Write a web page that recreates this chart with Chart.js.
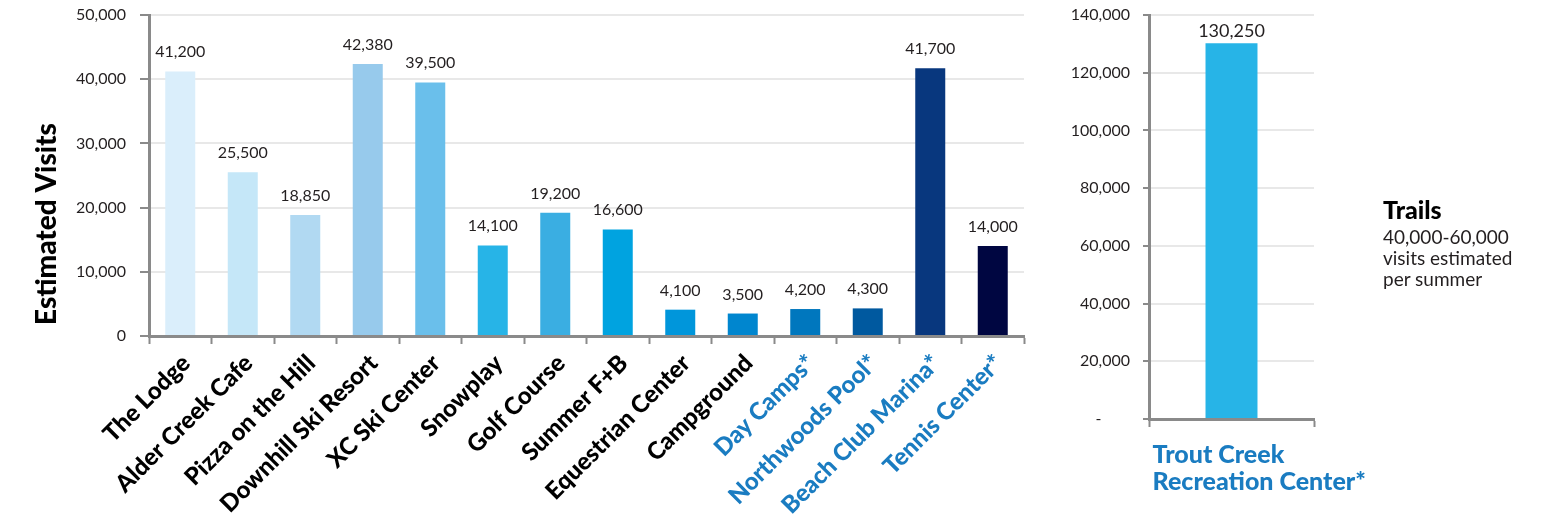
<!DOCTYPE html>
<html>
<head>
<meta charset="utf-8">
<script src="https://cdn.jsdelivr.net/npm/chart.js@4.4.1/dist/chart.umd.min.js"></script>
<style>
  html, body { margin: 0; padding: 0; background: #fff; }
  body { width: 1555px; height: 526px; position: relative; overflow: hidden; font-family: Lato, sans-serif; color: #231f20; }
  .box { position: absolute; top: 0; height: 526px; }
  #leftBox { left: 0; width: 1040px; }
  #rightBox { left: 1040px; width: 515px; }
  #trails { position: absolute; left: 1383px; top: 195px; }
  #trails .head { font-size: 25px; font-weight: 900; line-height: 28px; color: #000; }
  #trails .body { font-size: 19px; line-height: 21px; margin-top: 3px; }
</style>
</head>
<body>
<div class="box" id="leftBox"><canvas id="leftChart"></canvas></div>
<div class="box" id="rightBox"><canvas id="rightChart"></canvas></div>
<div id="trails">
  <div class="head">Trails</div>
  <div class="body">40,000-60,000<br>visits estimated<br>per summer</div>
</div>
<script>
// Datos
const categories = ['The Lodge', 'Alder Creek Cafe', 'Pizza on the Hill', 'Downhill Ski Resort', 'XC Ski Center',
    'Snowplay', 'Golf Course', 'Summer F+B', 'Equestrian Center', 'Campground', 'Day Camps*',
    'Northwoods Pool*', 'Beach Club Marina*', 'Tennis Center*'];
const visits = [41200, 25500, 18850, 42380, 39500, 14100, 19200, 16600, 4100, 3500, 4200, 4300, 41700, 14000];
const barColors = ['#daeefb', '#c5e7f8', '#b1d9f2', '#97caec', '#6abfeb', '#27b4e7', '#3aaee2', '#00a3e0',
    '#0096db', '#0086cf', '#0077be', '#00599f', '#08377e', '#000641'];
const blueLabelFrom = 10; // Day Camps* en adelante

const troutLabel = [['Trout Creek', 'Recreation Center*']];
const troutVisits = [130250];

const leftMax = 50000, leftStep = 10000;
const rightMax = 140000, rightStep = 20000;

const textColor = '#231f20';
const axisGray = '#8a8a8a';
const gridGray = '#e8e8e8';
const labelBlue = '#1a7cc1';

const fmt = v => v.toLocaleString('en-US');

// Etiquetas de valor encima de cada barra
const valueLabels = {
    id: 'valueLabels',
    afterDatasetsDraw(chart, args, opts) {
        const ctx = chart.ctx;
        const ds = chart.data.datasets[0];
        ctx.save();
        ctx.font = opts.font;
        ctx.fillStyle = textColor;
        ctx.textAlign = 'center';
        ctx.textBaseline = 'alphabetic';
        chart.getDatasetMeta(0).data.forEach((bar, i) => {
            ctx.fillText(fmt(ds.data[i]), bar.x, bar.y - opts.gap);
        });
        ctx.restore();
    }
};

// Título del eje Y (centrado como en el original)
const yTitle = {
    id: 'yTitle',
    afterDraw(chart, args, opts) {
        if (!opts.text) return;
        const ctx = chart.ctx;
        ctx.save();
        ctx.translate(opts.x, opts.y);
        ctx.rotate(-Math.PI / 2);
        ctx.font = '900 28px Lato';
        ctx.fillStyle = '#000';
        ctx.textAlign = 'center';
        ctx.textBaseline = 'middle';
        ctx.fillText(opts.text, 0, 0);
        ctx.restore();
    }
};

// fija el tamaño de los ejes para que el área del gráfico quede donde en el original
const fixY = w => s => { s.width = w; s.paddingTop = 0; s.paddingBottom = 0; };
const fixX = h => s => { s.height = h; s.paddingLeft = 0; s.paddingRight = 0; };

Chart.defaults.font.family = 'Lato';
Chart.defaults.color = textColor;

new Chart(document.getElementById('leftChart'), {
    type: 'bar',
    data: {
        labels: categories,
        datasets: [{
            data: visits,
            backgroundColor: barColors,
            barPercentage: 0.6,
            categoryPercentage: 0.8
        }]
    },
    options: {
        responsive: true,
        maintainAspectRatio: false,
        animation: false,
        layout: { padding: { top: 15, right: 16, left: 0, bottom: 0 } },
        plugins: {
            legend: { display: false },
            tooltip: { enabled: false },
            valueLabels: { font: '16px Lato', gap: 14 },
            yTitle: { text: 'Estimated Visits', x: 47, y: 224 }
        },
        scales: {
            x: {
                grid: { drawOnChartArea: false, offset: true, tickLength: 8, tickColor: axisGray, tickWidth: 2 },
                border: { color: axisGray, width: 3 },
                ticks: {
                    minRotation: 45, maxRotation: 45, autoSkip: false, padding: 5, labelOffset: 6,
                    font: { size: 24, weight: '900' },
                    color: c => c.index >= blueLabelFrom ? labelBlue : '#000'
                },
                afterFit: fixX(190)
            },
            y: {
                min: 0, max: leftMax,
                grid: { color: gridGray, lineWidth: 2, tickLength: 9, tickColor: axisGray, tickWidth: 2 },
                border: { color: axisGray, width: 3 },
                ticks: { stepSize: leftStep, padding: 14, font: { size: 16 }, callback: v => fmt(v) },
                afterFit: fixY(149)
            }
        }
    },
    plugins: [valueLabels, yTitle]
});

new Chart(document.getElementById('rightChart'), {
    type: 'bar',
    data: {
        labels: troutLabel,
        datasets: [{
            data: troutVisits,
            backgroundColor: '#27b4e7',
            barPercentage: 0.315,
            categoryPercentage: 1
        }]
    },
    options: {
        responsive: true,
        maintainAspectRatio: false,
        animation: false,
        layout: { padding: { top: 15, right: 241, left: 0, bottom: 0 } },
        plugins: {
            legend: { display: false },
            tooltip: { enabled: false },
            valueLabels: { font: '18px Lato', gap: 6 },
            yTitle: { text: '' }
        },
        scales: {
            x: {
                grid: { drawOnChartArea: false, offset: true, tickLength: 8, tickColor: axisGray, tickWidth: 2 },
                border: { color: axisGray, width: 3 },
                ticks: {
                    align: 'start', labelOffset: -79, padding: 14,
                    font: { size: 25, weight: '900', lineHeight: 1.08 },
                    color: labelBlue
                },
                afterFit: fixX(107)
            },
            y: {
                min: 0, max: rightMax,
                grid: { color: gridGray, lineWidth: 2, tickLength: 6, tickColor: axisGray, tickWidth: 2 },
                border: { color: axisGray, width: 3 },
                ticks: {
                    stepSize: rightStep, padding: 13, font: { size: 16 },
                    callback: v => v === 0 ? '-       ' : fmt(v)
                },
                afterFit: fixY(109)
            }
        }
    },
    plugins: [valueLabels, yTitle]
});
</script>
</body>
</html>
